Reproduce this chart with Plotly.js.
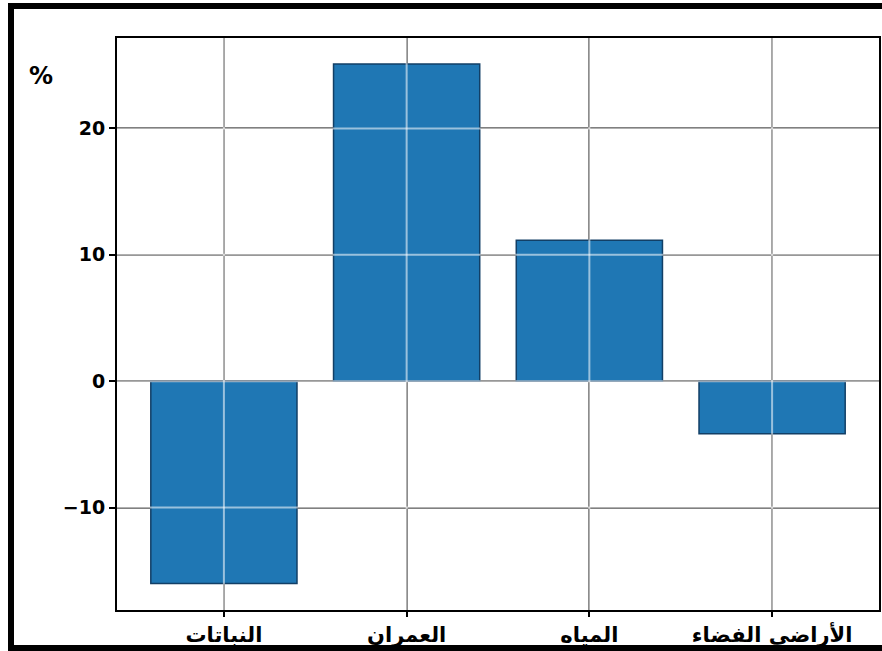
<!DOCTYPE html>
<html>
<head>
<meta charset="utf-8">
<script src="https://cdn.plot.ly/plotly-3.0.1.min.js"></script>
<style>
  html, body { margin: 0; padding: 0; background: #fff; overflow: hidden; }
  #wrap { position: relative; width: 882px; height: 651px; }
  #chart { position: absolute; left: 0; top: 0; width: 882px; height: 651px; }
  #frame { position: absolute; left: 8px; top: 3px; width: 900px; height: 648px;
           border: 6px solid #000; box-sizing: border-box; pointer-events: none; }
</style>
</head>
<body>
<div id="wrap">
  <div id="chart"></div>
  <div id="frame"></div>
</div>
<script>
const categories = ["النباتات", "العمران", "المياه", "الأراضي الفضاء"];
const values = [-16.0, 25.1, 11.15, -4.15];
const yTickValues = [-10, 0, 10, 20];
const yUnitLabel = "%";

const xIdx = categories.map((_, i) => i);

const trace = {
  type: "bar",
  x: xIdx,
  y: values,
  width: 0.8,
  marker: { color: "#1f77b4", line: { color: "#123f66", width: 1.5 } },
  hoverinfo: "skip"
};

// light overlay grid above bars (matplotlib draws grid over bars)
const shapes = [];
yTickValues.forEach(v => shapes.push({
  type: "line", xref: "paper", yref: "y", x0: 0, x1: 1, y0: v, y1: v,
  layer: "above", line: { color: "rgba(255,255,255,0.55)", width: 2 }
}));
xIdx.forEach(v => shapes.push({
  type: "line", xref: "x", yref: "paper", x0: v, x1: v, y0: 0, y1: 1,
  layer: "above", line: { color: "rgba(255,255,255,0.55)", width: 2 }
}));

const layout = {
  width: 882, height: 651,
  margin: { l: 117, r: 3, t: 38, b: 41 },
  paper_bgcolor: "#fff", plot_bgcolor: "#fff",
  showlegend: false,
  xaxis: {
    range: [-0.585, 3.585],
    tickmode: "array", tickvals: xIdx, ticktext: categories,
    showgrid: true, gridcolor: "#505050", gridwidth: 2,
    showline: true, mirror: true, linecolor: "#000", linewidth: 2,
    ticks: "outside", ticklen: 5, tickwidth: 2, tickcolor: "#000",
    tickfont: { family: "DejaVu Sans", size: 21, color: "#000", weight: "bold" },
    zeroline: false, fixedrange: true
  },
  yaxis: {
    range: [-18.1, 27.15],
    tickmode: "array", tickvals: yTickValues,
    showgrid: true, gridcolor: "#505050", gridwidth: 2,
    showline: true, mirror: true, linecolor: "#000", linewidth: 2,
    ticks: "outside", ticklen: 6, tickwidth: 2, tickcolor: "#000",
    tickfont: { family: "DejaVu Sans", size: 19, color: "#000", weight: "bold" },
    zeroline: false, fixedrange: true
  },
  shapes: shapes,
  annotations: [{
    text: yUnitLabel, xref: "paper", yref: "paper", x: -0.0996, y: 0.934,
    xanchor: "center", yanchor: "middle", showarrow: false,
    font: { family: "DejaVu Sans", size: 24, color: "#000", weight: "bold" }
  }]
};

Plotly.newPlot("chart", [trace], layout, { displayModeBar: false, staticPlot: true });
</script>
</body>
</html>
